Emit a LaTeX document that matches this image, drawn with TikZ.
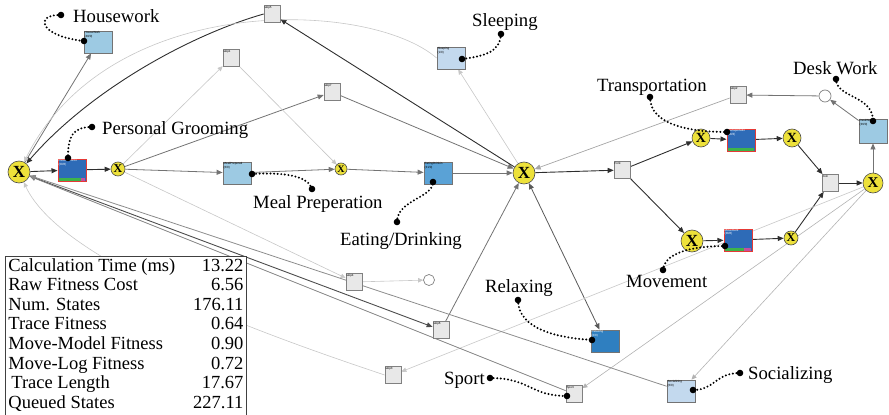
\documentclass[tikz,border=0pt]{standalone}
\usepackage{fontspec}
\setmainfont{Liberation Serif}
\newfontfamily\boxfont{Liberation Sans}
\usetikzlibrary{arrows.meta,calc}

\definecolor{gateyellow}{HTML}{EDE13A}
\definecolor{actlight}{HTML}{9DCAE3}
\definecolor{actpale}{HTML}{C3D9EE}
\definecolor{actmid}{HTML}{5AA2D6}
\definecolor{actdeep}{HTML}{2F7FC0}
\definecolor{acthot}{HTML}{2E6BB7}
\definecolor{hotrim}{HTML}{E53935}
\definecolor{skipfill}{HTML}{E8E8E8}
\definecolor{movegreen}{HTML}{3DB34A}
\definecolor{movepink}{HTML}{C44FA0}

\pgfdeclarelayer{edges}
\pgfsetlayers{edges,main}

\def\pin(#1)(#2)(#3)(#4){\draw[hint] (#1) .. controls (#2) and (#3) .. (#4);
  \fill (#1) circle (3.3pt); \fill (#4) circle (3.3pt);}

\tikzset{
  gate/.style 2 args={circle, draw=black!70, line width=0.6pt, fill=gateyellow,
    inner sep=0pt, minimum size=#1, font=\bfseries\fontsize{#2}{#2}\selectfont},
  act/.style={rectangle, draw=black!55, line width=0.8pt, minimum width=28pt,
    minimum height=22pt, inner sep=0pt},
  hot/.style={act, draw=hotrim, fill=acthot, line width=1pt},
  skipbox/.style={rectangle, draw=black!50, line width=0.7pt, fill=skipfill,
    minimum width=16pt, minimum height=17pt, inner sep=0pt},
  sink/.style={circle, draw=black!50, line width=0.7pt, fill=white,
    minimum size=#1, inner sep=0pt},
  tagtext/.style={anchor=north west, inner sep=0.8pt, align=left,
    font=\boxfont\fontsize{3}{3.4}\selectfont},
  tag/.style={label={[tagtext]north west:#1}},
  tagw/.style={label={[tagtext, text=white]north west:#1}},
  big/.style={font=\fontsize{18.7}{20}\selectfont, inner sep=0pt, anchor=base west},
  strong/.style={draw=black!82, line width=0.9pt, -{Triangle[length=6pt,width=5pt]}},
  plain/.style={draw=black!55, line width=0.8pt, -{Triangle[length=6pt,width=5pt]}},
  faint/.style={draw=black!22, line width=0.6pt, -{Triangle[length=5pt,width=4.5pt]}},
  hint/.style={line width=2.2pt, dash pattern=on 0pt off 3.6pt, line cap=round},
}

\begin{document}
\begin{tikzpicture}[x=1pt, y=-1pt]
    %%%%% START %%%%%
    \useasboundingbox (0,0) rectangle (889,415);

    % xor gateways
    \node[gate={22pt}{17pt}] (g0) at (19,172) {X};
    \node[gate={14pt}{12pt}] (g1) at (118,169) {X};
    \node[gate={12pt}{10pt}] (g2) at (341,169) {X};
    \node[gate={22pt}{17pt}] (g3) at (524,173) {X};
    \node[gate={18pt}{14pt}] (g4) at (701,138) {X};
    \node[gate={18pt}{14pt}] (g5) at (792,138) {X};
    \node[gate={20pt}{15pt}] (g6) at (873,183) {X};
    \node[gate={22pt}{17pt}] (g7) at (692,241) {X};
    \node[gate={14pt}{12pt}] (g8) at (791,238) {X};

    % activities
    \node[act, fill=actlight, tag={HouseWork\\(40/0)}] (house) at (98,42) {};
    \node[hot, tagw={PersonalGroo\\(30/6)}] (groom) at (72,170) {};
    \node[act, fill=actlight, tag={MealPreperati\\(6/0)}] (meal) at (237,173) {};
    \node[act, fill=actmid, tag={EatingDrinkin\\(31/0)}] (eat) at (438,173) {};
    \node[act, fill=actpale, tag={Sleeping\\(1/0)}] (sleep) at (451,58) {};
    \node[hot, tagw={Transportatio\\(38/3)}] (trans) at (741,140) {};
    \node[hot, tagw={Movement\\(38/6)}] (move) at (738,240) {};
    \node[act, fill=actlight, minimum height=24pt, tag={DeskWork\\(36/0)}] (desk) at (873,131) {};
    \node[act, fill=actdeep, tagw={Relaxing\\(2/0)}] (relax) at (605,341) {};
    \node[act, fill=actpale, tag={Socializing\\(6/0)}] (social) at (681,391) {};

    % silent steps
    \node[skipbox, tag=skip5] (skip5) at (272,14) {};
    \node[skipbox, tag=skip1] (skip1) at (231,58) {};
    \node[skipbox, tag=skip7] (skip7) at (332,92) {};
    \node[skipbox, tag=Fork] (fork) at (622,170) {};
    \node[skipbox, tag=skip2] (skip2) at (738,95) {};
    \node[skipbox, tag=Join] (join) at (830,183) {};
    \node[skipbox, tag=skip4] (skip4) at (354,282) {};
    \node[skipbox, tag=skip6] (skip6) at (441,330) {};
    \node[skipbox, tag=skip3] (skip3) at (393,375) {};
    \node[skipbox, tag=Sport] (sport) at (574,394) {};
    \node[sink=12pt] (end1) at (825,96) {};
    \node[sink=11pt] (end2) at (429,280) {};

    % move bars
    \fill[movegreen] ([shift={(1,-1)}]groom.south west) rectangle ([shift={(23,-3.5)}]groom.south west);
    \fill[movepink] ([shift={(23,-1)}]groom.south west) rectangle ([shift={(27,-3.5)}]groom.south west);
    \fill[movegreen] ([shift={(1,-1)}]trans.south west) rectangle ([shift={(27,-3.5)}]trans.south west);
    \fill[movegreen] ([shift={(1,-1)}]move.south west) rectangle ([shift={(20,-3.5)}]move.south west);
    \fill[movepink] ([shift={(20,-1)}]move.south west) rectangle ([shift={(27,-3.5)}]move.south west);

    \begin{pgfonlayer}{edges}
    \draw[strong] (g0) -- (groom);
    \draw[strong] (groom) -- (g1);
    \draw[plain] (g0) -- (house);
    \draw[plain] (g1) -- (meal);
    \draw[plain] (g1) -- (skip7);
    \draw[faint] (g1) -- (skip1);
    \draw[faint] (skip1) -- (g2);
    \draw[plain] (meal) -- (g2);
    \draw[plain] (g2) -- (eat);
    \draw[plain] (eat) -- (g3);
    \draw[plain] (skip7) -- (g3);
    \draw[strong] (g3) -- (skip5);
    \draw[strong] (skip5.west) .. controls (190,35) and (90,90) .. (g0);
    \draw[faint] (sleep.west) .. controls (370,0) and (110,-10) .. (g0);
    \draw[faint] (g3) -- (sleep);

    \draw[strong] (g3) -- (fork);
    \draw[strong] (fork) -- (g4);
    \draw[strong] (fork) -- (g7);
    \draw[strong] (g4) -- (trans);
    \draw[strong] (trans) -- (g5);
    \draw[strong] (g7) -- (move);
    \draw[strong] (move) -- (g8);
    \draw[strong] (g5) -- (join);
    \draw[strong] (g8) -- (join);
    \draw[strong] (join) -- (g6);
    \draw[plain] (g6) -- (desk);
    \draw[plain] (desk) -- (end1);
    \draw[plain] (end1) -- (skip2);
    \draw[draw=black!35, line width=0.7pt, -{Triangle[length=6pt,width=5pt]}] (skip2) -- (g3);

    \draw[faint] (g1) -- (skip4);
    \draw[faint] (skip4) -- (end2);
    \draw[strong, draw=black!70] (g0) -- (skip6);
    \draw[plain] (skip6) -- (g3);
    \draw[plain, draw=black!65, {Triangle[length=6pt,width=5pt]}-{Triangle[length=6pt,width=5pt]}] (g3) -- (relax);
    \draw[faint] (g6) -- (skip3);
    \draw[faint, draw=black!30] (g6) -- (sport);
    \draw[faint, draw=black!30] (g6) -- (social);
    \draw[plain, draw=black!50] (sport) -- (g0);
    \draw[plain, draw=black!45] (social) -- (g0);
    \draw[faint] (skip3.west) .. controls (250,330) and (60,260) .. (g0);
    \end{pgfonlayer}

    % statistics
    \node[draw=black!75, line width=0.8pt, fill=white, anchor=north west,
      inner xsep=3pt, inner ysep=1pt, font=\fontsize{18.5}{19.6}\selectfont] (stats) at (5,256) {%
      \begin{tabular}{@{}l@{\hspace{18pt}}r@{}}
        Calculation Time (ms) & 13.22\\
        Raw Fitness Cost & 6.56\\
        Num. States & 176.11\\
        Trace Fitness & 0.64\\
        Move-Model Fitness & 0.90\\
        Move-Log Fitness & 0.72\\
        \hspace{3pt}Trace Length & 17.67\\
        Queued States & 227.11
      \end{tabular}};

    % activity names
    \node[big] (tHouse) at (73,22) {Housework};
    \node[big] (tGroom) at (102,134) {Personal Grooming};
    \node[big] (tSleep) at (472,26) {Sleeping};
    \node[big] (tMeal) at (253,208) {Meal Preperation};
    \node[big] (tEat) at (340,245) {Eating/Drinking};
    \node[big] (tTrans) at (597,91) {Transportation};
    \node[big] (tDesk) at (793,74) {Desk Work};
    \node[big] (tMove) at (626,287) {Movement};
    \node[big] (tRelax) at (485,292) {Relaxing};
    \node[big] (tSport) at (444,384) {Sport};
    \node[big] (tSocial) at (748,379) {Socializing};

    % pins
    \coordinate (pHouse) at (61,15);   \coordinate (bHouse) at (84,41);
    \coordinate (pGroom) at (92,127);  \coordinate (bGroom) at (68,158);
    \coordinate (pSleep) at (501,34);  \coordinate (bSleep) at (462,59);
    \coordinate (pMeal) at (312,189);  \coordinate (bMeal) at (252,174);
    \coordinate (pEat) at (397,222);   \coordinate (bEat) at (433,182);
    \coordinate (pTrans) at (650,97);  \coordinate (bTrans) at (727,132);
    \coordinate (pDesk) at (836,79);   \coordinate (bDesk) at (873,121);
    \coordinate (pMove) at (663,270);  \coordinate (bMove) at (725,246);
    \coordinate (pRelax) at (518,300); \coordinate (bRelax) at (592,340);
    \coordinate (pSport) at (490,378); \coordinate (bSport) at (567,396);
    \coordinate (pSocial) at (740,373); \coordinate (bSocial) at (693,390);

    \pin(pHouse)(35,14)(38,36)(bHouse)
    \pin(pGroom)(72,127)(68,137)(bGroom)
    \pin(pSleep)(500,52)(485,56)(bSleep)
    \pin(pMeal)(308,176)(285,172)(bMeal)
    \pin(pEat)(397,200)(433,198)(bEat)
    \pin(pTrans)(650,125)(690,132)(bTrans)
    \pin(pDesk)(836,98)(873,95)(bDesk)
    \pin(pMove)(665,250)(700,246)(bMove)
    \pin(pRelax)(518,330)(560,338)(bRelax)
    \pin(pSport)(530,378)(530,396)(bSport)
    \pin(pSocial)(715,373)(715,390)(bSocial)

    %%%%% END %%%%%
\end{tikzpicture}
\end{document}
